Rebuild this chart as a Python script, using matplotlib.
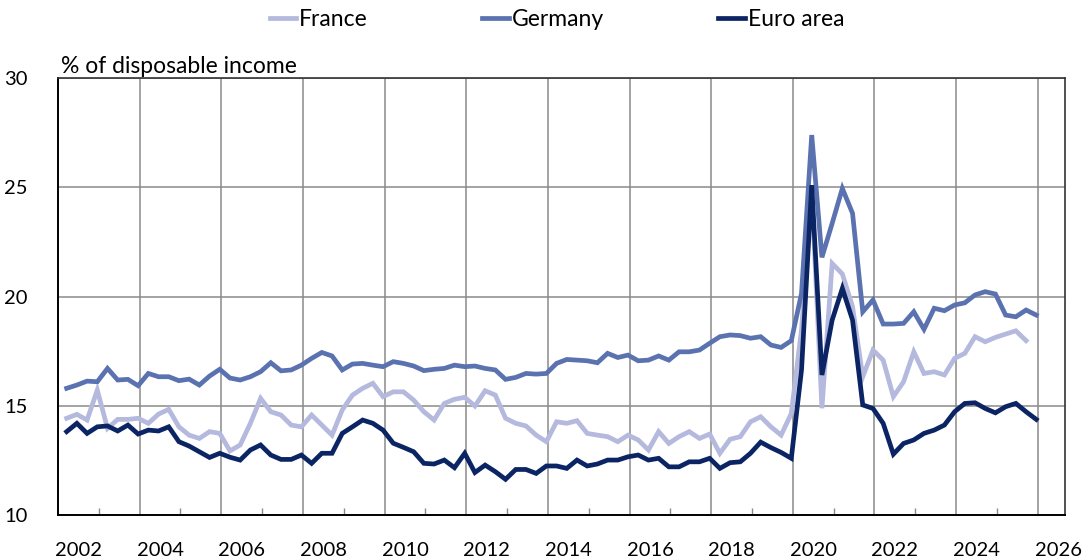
import matplotlib
matplotlib.use("Agg")
import matplotlib.pyplot as plt
import numpy as np

# quarterly saving rates, % of disposable income, 2002Q1 onwards
start_year = 2002
france = [14.44, 14.62, 14.36, 15.73, 13.98, 14.39, 14.39, 14.44, 14.21, 14.63,
          14.85, 14.05, 13.67, 13.52, 13.83, 13.75, 12.95, 13.22, 14.21, 15.35,
          14.74, 14.59, 14.13, 14.05, 14.59, 14.13, 13.67, 14.82, 15.5, 15.81,
          16.04, 15.43, 15.65, 15.65, 15.27, 14.74, 14.36, 15.12, 15.31, 15.4,
          15.0, 15.7, 15.5, 14.44, 14.21, 14.09, 13.67, 13.37, 14.28, 14.21,
          14.33, 13.75, 13.67, 13.6, 13.37, 13.67, 13.45, 12.99, 13.83, 13.29,
          13.6, 13.83, 13.52, 13.72, 12.84, 13.48, 13.6, 14.28, 14.51, 14.05,
          13.67, 14.66, 18.5, 24.8, 14.9, 21.52, 21.04, 19.54, 16.34, 17.56,
          17.1, 15.43, 16.11, 17.48, 16.49, 16.57, 16.42, 17.18, 17.41, 18.17,
          17.94, 18.14, 18.29, 18.44, 17.99]
germany = [15.81, 15.96, 16.14, 16.11, 16.72, 16.19, 16.22, 15.93, 16.49, 16.34,
           16.34, 16.16, 16.23, 15.96, 16.37, 16.68, 16.28, 16.19, 16.34, 16.57,
           16.98, 16.61, 16.65, 16.87, 17.18, 17.45, 17.29, 16.65, 16.92, 16.95,
           16.87, 16.8, 17.03, 16.95, 16.83, 16.62, 16.68, 16.72, 16.87, 16.8,
           16.83, 16.72, 16.65, 16.22, 16.31, 16.49, 16.46, 16.49, 16.95, 17.13,
           17.1, 17.07, 16.98, 17.41, 17.22, 17.33, 17.07, 17.1, 17.29, 17.1,
           17.48, 17.48, 17.56, 17.87, 18.17, 18.25, 18.22, 18.1, 18.17, 17.79,
           17.68, 17.99, 20.15, 27.39, 21.8, 23.35, 24.95, 23.81, 19.31, 19.85,
           18.75, 18.75, 18.78, 19.31, 18.51, 19.47, 19.36, 19.62, 19.72, 20.08,
           20.23, 20.12, 19.16, 19.08, 19.39, 19.16]
euro_area = [13.83, 14.21, 13.75, 14.05, 14.09, 13.86, 14.13, 13.72, 13.9, 13.86,
             14.05, 13.37, 13.17, 12.91, 12.65, 12.84, 12.66, 12.53, 12.99, 13.22,
             12.76, 12.56, 12.56, 12.76, 12.38, 12.84, 12.84, 13.75, 14.05, 14.36,
             14.21, 13.9, 13.3, 13.11, 12.91, 12.38, 12.35, 12.53, 12.18, 12.84,
             11.96, 12.3, 12.0, 11.65, 12.1, 12.1, 11.92, 12.26, 12.26, 12.15,
             12.53, 12.26, 12.35, 12.53, 12.53, 12.68, 12.76, 12.53, 12.61, 12.22,
             12.22, 12.45, 12.45, 12.61, 12.15, 12.41, 12.45, 12.84, 13.35, 13.1,
             12.88, 12.61, 16.65, 25.1, 16.42, 18.93, 20.38, 18.93, 15.05, 14.89,
             14.21, 12.8, 13.29, 13.45, 13.75, 13.9, 14.13, 14.74, 15.12, 15.15,
             14.89, 14.69, 14.97, 15.12, 14.74, 14.39]

year_ticks = list(range(2002, 2027, 2))
y_ticks = [10, 15, 20, 25, 30]

c_france = "#b4b9dd"
c_germany = "#5b72b0"
c_euro = "#0b2464"


def qpos(n):
    # plotted a bit after the start of each quarter, as in the source chart
    return start_year + (np.arange(n) + 0.85) / 4


def main():
    plt.rcParams["font.family"] = ["Lato", "DejaVu Sans"]
    fig = plt.figure(figsize=(10.9, 5.59), dpi=100)
    ax = fig.add_axes([0.0532, 0.078, 0.924, 0.7825])

    ax.plot(qpos(len(france)), france, color=c_france, lw=3.4, label="France",
            solid_joinstyle="miter", zorder=3)
    ax.plot(qpos(len(germany)), germany, color=c_germany, lw=3.4, label="Germany",
            solid_joinstyle="miter", zorder=4)
    ax.plot(qpos(len(euro_area)), euro_area, color=c_euro, lw=3.4, label="Euro area",
            solid_joinstyle="miter", zorder=5)

    ax.set_xlim(2002, 2026.67)
    ax.set_ylim(10, 30)
    ax.set_yticks(y_ticks)
    ax.set_xticks(year_ticks)
    ax.set_xticklabels([])
    ax.set_xticks([y + 1 for y in year_ticks[:-1]], minor=True)
    ax.grid(True, which="major", color="#8a8a8a", lw=1.1)
    ax.tick_params(axis="x", which="major", length=0)
    ax.tick_params(axis="x", which="minor", direction="in", length=5,
                   color="#8a8a8a", width=1)
    ax.tick_params(axis="y", length=0, labelsize=14.5, pad=22)
    for yr in year_ticks:
        ax.text(yr + 0.5, -0.06, str(yr), transform=ax.get_xaxis_transform(),
                ha="center", va="top", fontsize=14.5)
    for side in ["left", "bottom"]:
        ax.spines[side].set_color("black")
        ax.spines[side].set_linewidth(1.4)
    for side in ["top", "right"]:
        ax.spines[side].set_color("#333333")
        ax.spines[side].set_linewidth(1.2)

    ax.text(0.003, 1.003, "% of disposable income", transform=ax.transAxes,
            ha="left", va="bottom", fontsize=16.5)

    fig.legend(loc="upper center", bbox_to_anchor=(0.511, 1.02), ncol=3,
               frameon=False, fontsize=16.5, handlelength=1.15,
               handletextpad=0.13, columnspacing=5.0)

    fig.savefig("out.png", dpi=100)


if __name__ == "__main__":
    main()
